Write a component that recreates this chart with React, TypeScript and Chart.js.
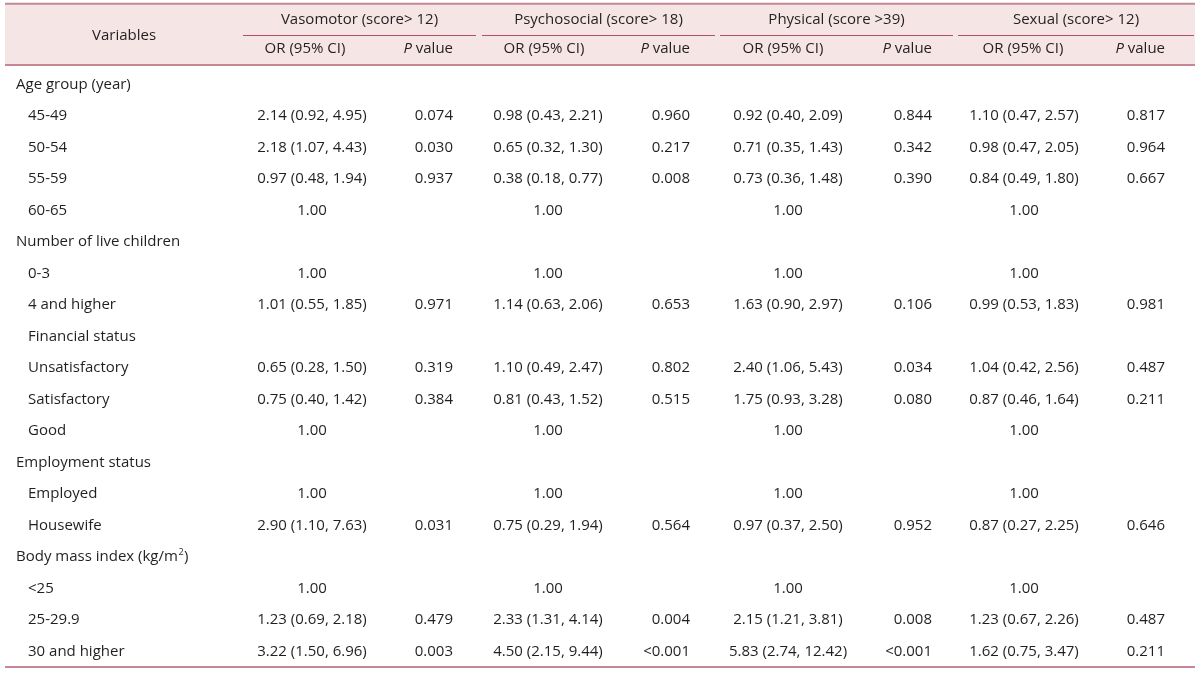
import React, { useEffect, useRef } from "react";
import { Chart, registerables } from "chart.js";

Chart.register(...registerables);

// ---------------- data ----------------
const rowLabels = [
  "Age group (year)",
  "45-49",
  "50-54",
  "55-59",
  "60-65",
  "Number of live children",
  "0-3",
  "4 and higher",
  "Financial status",
  "Unsatisfactory",
  "Satisfactory",
  "Good",
  "Employment status",
  "Employed",
  "Housewife",
  "Body mass index (kg/m²)",
  "<25",
  "25-29.9",
  "30 and higher",
];
const rowIndented = [false, true, true, true, true, false, true, true, true, true, true, true, false, true, true, false, true, true, true];

const groupTitles = ["Vasomotor (score> 12)", "Psychosocial (score> 18)", "Physical (score >39)", "Sexual (score> 12)"];
const subHeaders = ["OR (95% CI)", "P value"];

const vasomotorOR = ["", "2.14 (0.92, 4.95)", "2.18 (1.07, 4.43)", "0.97 (0.48, 1.94)", "1.00", "", "1.00", "1.01 (0.55, 1.85)", "", "0.65 (0.28, 1.50)", "0.75 (0.40, 1.42)", "1.00", "", "1.00", "2.90 (1.10, 7.63)", "", "1.00", "1.23 (0.69, 2.18)", "3.22 (1.50, 6.96)"];
const vasomotorP = ["", "0.074", "0.030", "0.937", "", "", "", "0.971", "", "0.319", "0.384", "", "", "", "0.031", "", "", "0.479", "0.003"];
const psychosocialOR = ["", "0.98 (0.43, 2.21)", "0.65 (0.32, 1.30)", "0.38 (0.18, 0.77)", "1.00", "", "1.00", "1.14 (0.63, 2.06)", "", "1.10 (0.49, 2.47)", "0.81 (0.43, 1.52)", "1.00", "", "1.00", "0.75 (0.29, 1.94)", "", "1.00", "2.33 (1.31, 4.14)", "4.50 (2.15, 9.44)"];
const psychosocialP = ["", "0.960", "0.217", "0.008", "", "", "", "0.653", "", "0.802", "0.515", "", "", "", "0.564", "", "", "0.004", "<0.001"];
const physicalOR = ["", "0.92 (0.40, 2.09)", "0.71 (0.35, 1.43)", "0.73 (0.36, 1.48)", "1.00", "", "1.00", "1.63 (0.90, 2.97)", "", "2.40 (1.06, 5.43)", "1.75 (0.93, 3.28)", "1.00", "", "1.00", "0.97 (0.37, 2.50)", "", "1.00", "2.15 (1.21, 3.81)", "5.83 (2.74, 12.42)"];
const physicalP = ["", "0.844", "0.342", "0.390", "", "", "", "0.106", "", "0.034", "0.080", "", "", "", "0.952", "", "", "0.008", "<0.001"];
const sexualOR = ["", "1.10 (0.47, 2.57)", "0.98 (0.47, 2.05)", "0.84 (0.49, 1.80)", "1.00", "", "1.00", "0.99 (0.53, 1.83)", "", "1.04 (0.42, 2.56)", "0.87 (0.46, 1.64)", "1.00", "", "1.00", "0.87 (0.27, 2.25)", "", "1.00", "1.23 (0.67, 2.26)", "1.62 (0.75, 3.47)"];
const sexualP = ["", "0.817", "0.964", "0.667", "", "", "", "0.981", "", "0.487", "0.211", "", "", "", "0.646", "", "", "0.487", "0.211"];

const groupOR = [vasomotorOR, psychosocialOR, physicalOR, sexualOR];
const groupP = [vasomotorP, psychosocialP, physicalP, sexualP];

// ---------------- layout (x in scale units, y in row units) ----------------
const groupSpan = [[243, 476], [482, 715], [720, 953], [958, 1194]];
const orCenter = [312, 548, 788, 1024];
const orHeadCenter = [305, 544, 783, 1023];
const pRight = [453, 690, 932, 1165];

const FONT = '"Open Sans", "Noto Sans", sans-serif';
const SIZE = 15;
const TEXT = "#231f20";

const tablePlugin = {
  id: "tablePlugin",
  afterDraw(chart: any) {
    const { ctx } = chart;
    const xs = chart.scales.x;
    const ys = chart.scales.y;
    const X = (v: number) => xs.getPixelForValue(v);
    const Y = (v: number) => ys.getPixelForValue(v);

    const yTop = Y(-2.55);
    const yMid = Y(-1.556);
    const yHeadBottom = Y(-0.6);
    const yBottom = Y(18.51);
    const left = X(5);
    const right = X(1195);

    ctx.save();
    ctx.fillStyle = "#f6e5e5";
    ctx.fillRect(left, yTop, right - left, yHeadBottom - yTop);

    ctx.strokeStyle = "#c68694";
    ctx.lineWidth = 2;
    const hline = (y: number, x0: number, x1: number) => {
      ctx.beginPath();
      ctx.moveTo(x0, y);
      ctx.lineTo(x1, y);
      ctx.stroke();
    };
    hline(yTop, left, right);
    hline(yHeadBottom, left, right);
    hline(yBottom, left, right);
    ctx.strokeStyle = "#b04f66";
    ctx.lineWidth = 1;
    groupSpan.forEach(([a, b]) => hline(Math.round(yMid) + 0.5, X(a), X(b)));

    ctx.fillStyle = TEXT;
    ctx.textBaseline = "middle";
    const normal = `${SIZE}px ${FONT}`;
    ctx.font = normal;

    ctx.textAlign = "center";
    ctx.fillText("Variables", X(124), Y(-1.52));
    groupTitles.forEach((t, g) => {
      const [a, b] = groupSpan[g];
      ctx.fillText(t, X((a + b) / 2), Y(-2.04));
    });
    const yHead2 = Y(-1.11);
    for (let g = 0; g < 4; g++) {
      ctx.textAlign = "center";
      ctx.font = normal;
      ctx.fillText(subHeaders[0], X(orHeadCenter[g]), yHead2);
      ctx.textAlign = "left";
      const rest = " value";
      const wRest = ctx.measureText(rest).width;
      ctx.font = `italic ${SIZE}px ${FONT}`;
      const wP = ctx.measureText("P").width;
      const x0 = X(pRight[g]) - wRest - wP;
      ctx.fillText("P", x0, yHead2);
      ctx.font = normal;
      ctx.fillText(rest, x0 + wP, yHead2);
    }

    rowLabels.forEach((lab, i) => {
      const y = Y(i) + 0.5;
      ctx.font = normal;
      ctx.textAlign = "left";
      const lx = X(rowIndented[i] ? 28 : 16);
      if (lab.endsWith("²)")) {
        const base = lab.slice(0, -2);
        ctx.fillText(base, lx, y);
        const w = ctx.measureText(base).width;
        ctx.font = `9px ${FONT}`;
        ctx.fillText("2", lx + w + 0.5, y - 5);
        const w2 = ctx.measureText("2").width;
        ctx.font = normal;
        ctx.fillText(")", lx + w + w2 + 1, y);
      } else {
        ctx.fillText(lab, lx, y);
      }
      for (let g = 0; g < 4; g++) {
        ctx.textAlign = "center";
        ctx.fillText(groupOR[g][i], X(orCenter[g]), y);
        ctx.textAlign = "right";
        ctx.fillText(groupP[g][i], X(pRight[g]), y);
      }
    });
    ctx.restore();
  },
};

export default function App() {
  const ref = useRef<HTMLCanvasElement | null>(null);
  useEffect(() => {
    if (!ref.current) return;
    const chart = new Chart(ref.current, {
      type: "scatter",
      data: { datasets: [{ data: [], pointRadius: 0 }] },
      options: {
        animation: false,
        responsive: false,
        devicePixelRatio: 1,
        layout: { padding: 0 },
        plugins: { legend: { display: false }, tooltip: { enabled: false } },
        scales: {
          x: { type: "linear", min: 0, max: 1200, display: false },
          y: { type: "linear", min: -2.667, max: 18.698, reverse: true, display: false },
        },
      },
      plugins: [tablePlugin],
    });
    return () => chart.destroy();
  }, []);
  return (
    <div style={{ position: "fixed", left: 0, top: 0, width: 1200, height: 673, background: "#fff" }}>
      <canvas ref={ref} width={1200} height={673} style={{ display: "block" }} />
    </div>
  );
}
